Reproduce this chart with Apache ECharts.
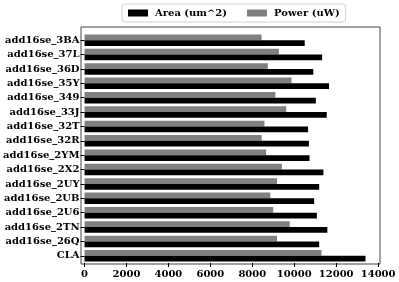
<!DOCTYPE html>
<html><head><meta charset="utf-8">
<script src="https://cdn.jsdelivr.net/npm/echarts@6/dist/echarts.min.js"></script>
<style>html,body{margin:0;padding:0;background:#fff}#c{width:399px;height:282px}</style>
</head><body><div id="c"></div>
<script>
// categories bottom -> top
var categories = ['CLA','add16se_26Q','add16se_2TN','add16se_2U6','add16se_2UB','add16se_2UY','add16se_2X2','add16se_2YM','add16se_32R','add16se_32T','add16se_33J','add16se_349','add16se_35Y','add16se_36D','add16se_37L','add16se_3BA'];
var areaValues  = [13400,11190,11580,11080,10950,11190,11390,10730,10700,10660,11550,11030,11660,10910,11330,10500];
var powerValues = [11300,9180,9790,9000,8860,9180,9410,8660,8450,8580,9620,9100,9870,8740,9270,8440];
var xTicks = [0,2000,4000,6000,8000,10000,12000,14000];

var font = 'DejaVu Serif';
var chart = echarts.init(document.getElementById('c'), null, {renderer:'canvas'});
chart.setOption({
  animation:false,
  backgroundColor:'#fff',
  legend:{
    left:122, top:4, padding:[4,6,4,6],
    borderColor:'#d0d0d0', borderWidth:1, borderRadius:3,
    itemWidth:20, itemHeight:7, itemGap:20,
    icon:'rect',
    textStyle:{fontFamily:font, fontWeight:'bold', fontSize:10, color:'#000', padding:[0,0,0,2]},
    data:['Area (um^2)','Power (uW)']
  },
  grid:[
    {left:81, right:19, top:33, bottom:19, containLabel:false},
    {left:81, right:19, top:27, bottom:18, show:true, borderColor:'#444', borderWidth:1, backgroundColor:'transparent'}
  ],
  xAxis:[
    {type:'value', gridIndex:0, min:0, max:14090, interval:2000,
     splitLine:{show:false}, axisLine:{show:false},
     axisTick:{show:true, length:4, lineStyle:{color:'#000'}, customValues:xTicks},
     axisLabel:{fontFamily:font, fontWeight:'bold', fontSize:10, color:'#000', margin:6, customValues:xTicks,
       formatter:function(v){return String(v);}}},
    {type:'value', gridIndex:1, show:false, min:0, max:1}
  ],
  yAxis:[
    {type:'category', gridIndex:0, data:categories,
     axisLine:{show:false},
     axisTick:{show:true, alignWithLabel:true, length:4, lineStyle:{color:'#000'}},
     axisLabel:{fontFamily:font, fontWeight:'bold', fontSize:10, color:'#000', margin:5}},
    {type:'value', gridIndex:1, show:false, min:0, max:1}
  ],
  series:[
    {name:'Power (uW)', type:'bar', xAxisIndex:0, yAxisIndex:0, data:powerValues,
     itemStyle:{color:'#808080'}, barGap:'0%', barCategoryGap:'20%'},
    {name:'Area (um^2)', type:'bar', xAxisIndex:0, yAxisIndex:0, data:areaValues,
     itemStyle:{color:'#000'}, barGap:'0%', barCategoryGap:'20%'}
  ]
});
</script></body></html>
